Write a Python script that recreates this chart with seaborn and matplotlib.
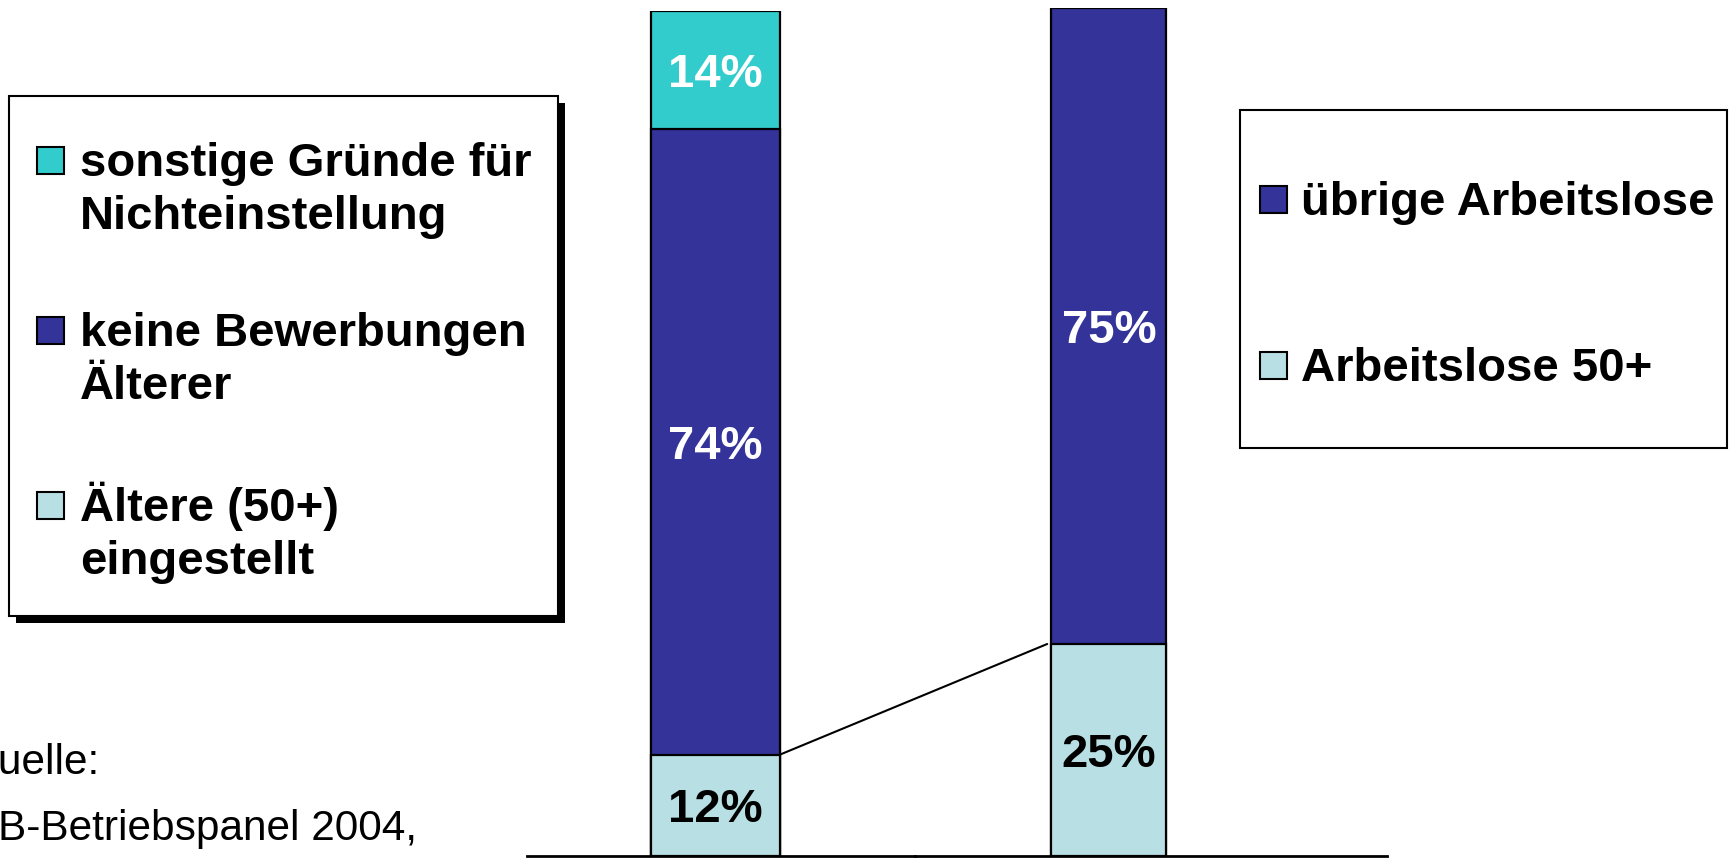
import matplotlib
matplotlib.use("Agg")
import matplotlib.pyplot as plt
from matplotlib.patches import Rectangle, ConnectionPatch
import seaborn as sns

# data
left_cat = ["Betriebe"]
left_labels = ["Ältere (50+)\neingestellt", "keine Bewerbungen\nÄlterer", "sonstige Gründe für\nNichteinstellung"]
left_values = [12, 74, 14]
left_colors = ["#B8E0E4", "#333399", "#33CCCC"]
left_text_colors = ["black", "white", "white"]

right_cat = ["Arbeitslose"]
right_labels = ["Arbeitslose 50+", "übrige Arbeitslose"]
right_values = [25, 75]
right_colors = ["#B8E0E4", "#333399"]
right_text_colors = ["black", "white"]

source_lines = ["Quelle:", "IAB-Betriebspanel 2004,"]

sns.set_theme(style="white")
plt.rcParams["font.family"] = ["Liberation Sans", "DejaVu Sans"]

W, H = 1733, 861
fig = plt.figure(figsize=(W / 100, H / 100), dpi=100)

# overlay in pixel coords for legends and source text
ov = fig.add_axes([0, 0, 1, 1])
ov.set_xlim(0, W)
ov.set_ylim(H, 0)
ov.axis("off")


def px_axes(x0, x1, ytop, ybot):
    return fig.add_axes([x0 / W, 1 - ybot / H, (x1 - x0) / W, (ybot - ytop) / H])


def stacked(ax, cat, values, colors, tcolors, bar_px, center_px, x0, x1):
    cum = []
    s = 0
    for v in values:
        s += v
        cum.append(s)
    # draw from top layer down so lower segments sit in front
    for i in reversed(range(len(values))):
        sns.barplot(x=cat, y=[cum[i]], color=colors[i], edgecolor="black",
                    linewidth=1.6, width=0.8, errorbar=None, saturation=1, ax=ax)
    for i, v in enumerate(values):
        ax.text(0, cum[i] - v / 2, f"{v}%", ha="center", va="center_baseline",
                fontsize=34, fontweight="bold", color=tcolors[i])
    ppu = bar_px / 0.8
    ax.set_xlim((x0 - center_px) / ppu, (x1 - center_px) / ppu)
    ax.set_ylim(0, 100)
    ax.set_xticks([])
    ax.set_yticks([])
    ax.set_xlabel("")
    ax.set_ylabel("")
    for sp in ["top", "left", "right"]:
        ax.spines[sp].set_visible(False)
    ax.spines["bottom"].set_color("black")
    ax.spines["bottom"].set_linewidth(2)
    ax.patch.set_alpha(0)


axA = px_axes(527, 915, 11, 856)
stacked(axA, left_cat, left_values, left_colors, left_text_colors, 129, 715.5, 527, 915)
axB = px_axes(915, 1387, 8, 856)
stacked(axB, right_cat, right_values, right_colors, right_text_colors, 115, 1109, 915, 1387)

con = ConnectionPatch(xyA=(0.4, left_values[0]), coordsA=axA.transData,
                      xyB=(-0.43, right_values[0]), coordsB=axB.transData,
                      color="black", lw=1.5)
fig.add_artist(con)


def legend_box(x0, y0, x1, y1, shadow):
    if shadow:
        ov.add_patch(Rectangle((x0 + 7, y0 + 7), x1 - x0, y1 - y0, facecolor="black",
                               edgecolor="none", zorder=1))
    ov.add_patch(Rectangle((x0, y0), x1 - x0, y1 - y0, facecolor="white",
                           edgecolor="black", lw=1.5, zorder=2))


def legend_items(labels, colors, baselines, sq_x, text_x, spacing=53):
    for lab, col, b in zip(labels, colors, baselines):
        ov.add_patch(Rectangle((sq_x, b - 29), 27, 27, facecolor=col,
                               edgecolor="black", lw=1.5, zorder=3))
        for k, line in enumerate(lab.split("\n")):
            ov.text(text_x, b + k * spacing, line, ha="left", va="baseline",
                    fontsize=34, fontweight="bold", color="black", zorder=3)


# left legend, top entry first
legend_box(9, 96, 558, 616, True)
legend_items(left_labels[::-1], left_colors[::-1], [176, 346, 521], 37, 80)

# right legend
legend_box(1240, 110, 1727, 448, False)
legend_items(right_labels[::-1], right_colors[::-1], [215, 381], 1260, 1301)

# source note (cut by left edge as in the original)
ov.text(-35, 773, source_lines[0], ha="left", va="baseline", fontsize=30.5, color="black")
ov.text(-42, 840, source_lines[1], ha="left", va="baseline", fontsize=30.5, color="black")

fig.savefig("out.png", dpi=100)
